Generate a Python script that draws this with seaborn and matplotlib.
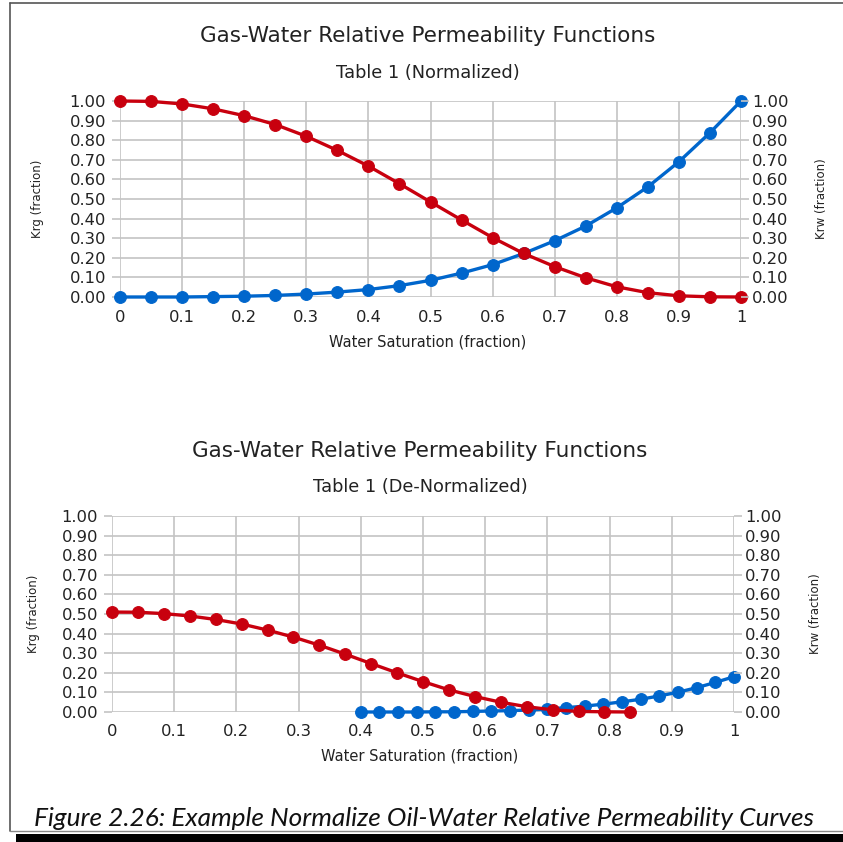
import numpy as np
import pandas as pd
import matplotlib
matplotlib.use("Agg")
import matplotlib.pyplot as plt
import seaborn as sns
from matplotlib.patches import Rectangle
from matplotlib.lines import Line2D

# ---------------- data ----------------
sw_norm = [0.00, 0.05, 0.10, 0.15, 0.20, 0.25, 0.30, 0.35, 0.40, 0.45, 0.50,
           0.55, 0.60, 0.65, 0.70, 0.75, 0.80, 0.85, 0.90, 0.95, 1.00]
krg_norm = [1.000, 0.998, 0.985, 0.960, 0.925, 0.880, 0.820, 0.748, 0.668, 0.578, 0.485,
            0.393, 0.303, 0.222, 0.155, 0.098, 0.052, 0.022, 0.006, 0.001, 0.000]
krw_norm = [0.000, 0.000, 0.000, 0.002, 0.004, 0.008, 0.015, 0.025, 0.038, 0.058, 0.085,
            0.122, 0.165, 0.222, 0.287, 0.362, 0.455, 0.562, 0.690, 0.838, 1.000]

sw_gas_denorm = [0.0000, 0.0417, 0.0833, 0.1250, 0.1667, 0.2083, 0.2500, 0.2917, 0.3333,
                 0.3750, 0.4167, 0.4583, 0.5000, 0.5417, 0.5833, 0.6250, 0.6667, 0.7083,
                 0.7500, 0.7917, 0.8333]
krg_denorm = [0.510, 0.509, 0.502, 0.490, 0.472, 0.449, 0.418, 0.382, 0.341, 0.295, 0.247,
              0.200, 0.155, 0.113, 0.079, 0.050, 0.027, 0.011, 0.003, 0.001, 0.000]
sw_wat_denorm = [0.40, 0.43, 0.46, 0.49, 0.52, 0.55, 0.58, 0.61, 0.64, 0.67, 0.70,
                 0.73, 0.76, 0.79, 0.82, 0.85, 0.88, 0.91, 0.94, 0.97, 1.00]
krw_denorm = [0.000, 0.000, 0.000, 0.000, 0.001, 0.001, 0.003, 0.005, 0.007, 0.010, 0.015,
              0.022, 0.030, 0.040, 0.052, 0.065, 0.082, 0.101, 0.124, 0.151, 0.180]

x_ticks = [0, 0.1, 0.2, 0.3, 0.4, 0.5, 0.6, 0.7, 0.8, 0.9, 1.0]
x_ticklabels = ["0", "0.1", "0.2", "0.3", "0.4", "0.5", "0.6", "0.7", "0.8", "0.9", "1"]
y_ticks = [0.0, 0.1, 0.2, 0.3, 0.4, 0.5, 0.6, 0.7, 0.8, 0.9, 1.0]
y_ticklabels = ["%.2f" % v for v in y_ticks]

title_main = "Gas-Water Relative Permeability Functions"
sub_top = "Table 1 (Normalized)"
sub_bot = "Table 1 (De-Normalized)"
xlabel = "Water Saturation (fraction)"
ylabel_l = "Krg (fraction)"
ylabel_r = "Krw (fraction)"
caption = "Figure 2.26: Example Normalize Oil-Water Relative Permeability Curves"

RED = "#c8000e"
BLUE = "#0066cc"
GRID = "#c4c4c4"
TXT = "#222222"

sns.set_style("white")
plt.rcParams["font.family"] = ["DejaVu Sans"]

W, H = 843, 842
fig = plt.figure(figsize=(W / 100, H / 100), dpi=100)

TICK_FS = 11.8
TITLE_FS = 15.5
SUB_FS = 12.8
XL_FS = 10.5
YL_FS = 8.5


def px_axes(l, t, r, b):
    return fig.add_axes([l / W, 1 - b / H, (r - l) / W, (b - t) / H])


def style_axes(ax):
    ax.set_xlim(0, 1)
    ax.set_ylim(0, 1)
    ax.set_xticks(x_ticks)
    ax.set_xticklabels(x_ticklabels)
    ax.set_yticks(y_ticks)
    ax.set_yticklabels(y_ticklabels)
    for s in ax.spines.values():
        s.set_visible(False)
    ax.grid(True, color=GRID, linewidth=1.2)
    ax.set_axisbelow(True)
    ax.tick_params(axis="both", length=6, width=1.2, color=GRID, labelsize=TICK_FS,
                   labelcolor=TXT, pad=4)
    ax.tick_params(axis="x", pad=3)
    ax.set_xlabel("")
    ax.set_ylabel("")


def draw_panel(l, t, r, b, xg, yg, xw, yw, sub, title_y, sub_y, xl_y, yl_lx, yl_rx, cx):
    ax = px_axes(l, t, r, b)
    df_g = pd.DataFrame({"sw": xg, "kr": yg})
    df_w = pd.DataFrame({"sw": xw, "kr": yw})
    sns.lineplot(data=df_w, x="sw", y="kr", ax=ax, color=BLUE, marker="o",
                 markersize=8.5, markeredgecolor=BLUE, linewidth=2.4, clip_on=False,
                 zorder=3)
    sns.lineplot(data=df_g, x="sw", y="kr", ax=ax, color=RED, marker="o",
                 markersize=8.5, markeredgecolor=RED, linewidth=2.4, clip_on=False,
                 zorder=4)
    style_axes(ax)
    ax2 = ax.twinx()
    ax2.set_ylim(0, 1)
    ax2.set_yticks(y_ticks)
    ax2.set_yticklabels(y_ticklabels)
    for s in ax2.spines.values():
        s.set_visible(False)
    ax2.tick_params(axis="y", length=6, width=1.2, color=GRID, labelsize=TICK_FS,
                    labelcolor=TXT, pad=2)
    ax2.grid(False)
    fig.text(cx / W, 1 - title_y / H, title_main, ha="center", va="center",
             fontsize=TITLE_FS, color=TXT)
    fig.text(cx / W, 1 - sub_y / H, sub, ha="center", va="center",
             fontsize=SUB_FS, color=TXT)
    fig.text(cx / W, 1 - xl_y / H, xlabel, ha="center", va="center",
             fontsize=XL_FS, color=TXT)
    fig.text(yl_lx / W, 1 - ((t + b) / 2) / H, ylabel_l, ha="center", va="center",
             rotation=90, fontsize=YL_FS, color=TXT)
    fig.text(yl_rx / W, 1 - ((t + b) / 2) / H, ylabel_r, ha="center", va="center",
             rotation=90, fontsize=YL_FS, color=TXT)
    return ax


draw_panel(120, 101, 741, 297, sw_norm, krg_norm, sw_norm, krw_norm, sub_top,
           36, 73, 342, 38, 822, 428)
draw_panel(112, 516, 734, 712, sw_gas_denorm, krg_denorm, sw_wat_denorm, krw_denorm,
           sub_bot, 451, 487, 756, 33, 816, 420)

# caption
fig.text(424 / W, 1 - 818 / H, caption, ha="center", va="center", fontsize=18.9,
         style="italic", color="#111111", family=["Lato", "DejaVu Sans"])

# frame lines and shadow
fig.add_artist(Line2D([10 / W, 10 / W], [1 - 3 / H, 1 - 831 / H], transform=fig.transFigure,
                      color="#555555", linewidth=1.2))
fig.add_artist(Line2D([10 / W, 1], [1 - 3 / H, 1 - 3 / H], transform=fig.transFigure,
                      color="#555555", linewidth=1.2))
fig.add_artist(Line2D([10 / W, 1], [1 - 831 / H, 1 - 831 / H], transform=fig.transFigure,
                      color="#888888", linewidth=1.0))
fig.add_artist(Rectangle((16 / W, 0), 1 - 16 / W, 8 / H, transform=fig.transFigure,
                         facecolor="black", edgecolor="none"))

fig.savefig("out.png", dpi=100)
